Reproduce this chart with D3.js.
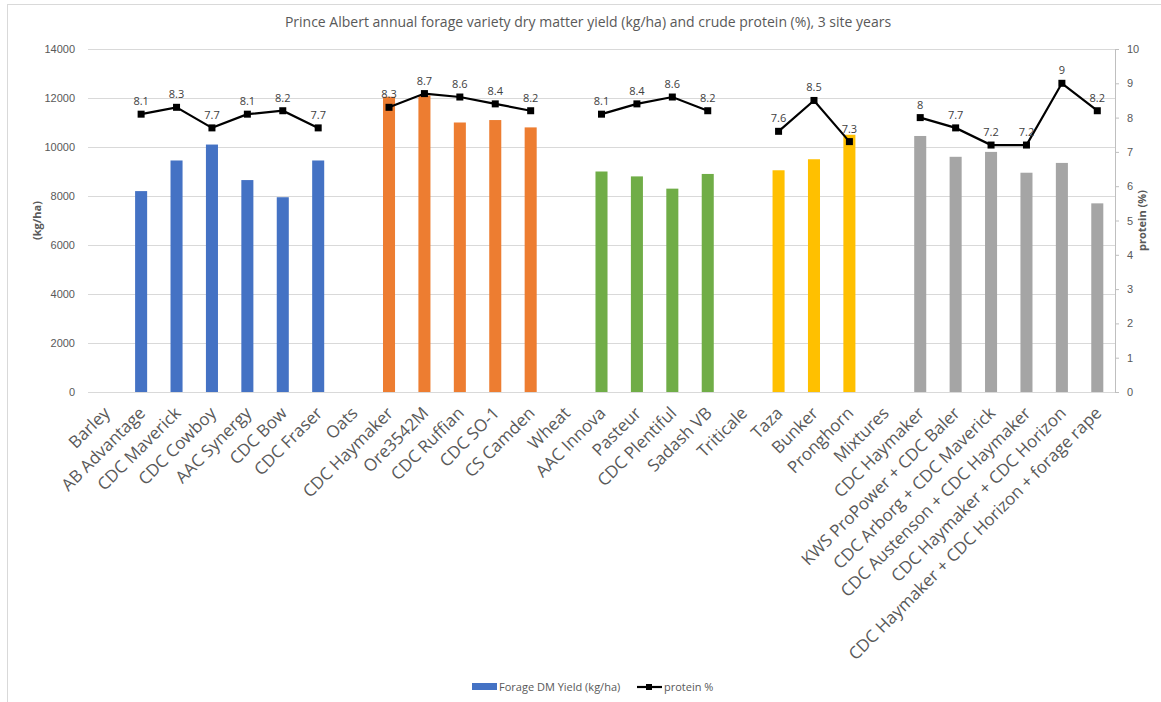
<!DOCTYPE html>
<html>
<head>
<meta charset="utf-8">
<script src="https://cdn.jsdelivr.net/npm/d3@7/dist/d3.min.js"></script>
<style>
  body { margin: 0; background: #fff; }
  svg { font-family: "Open Sans", "Liberation Sans", sans-serif; }
</style>
</head>
<body>
<div id="chart"></div>
<script>
// categories (group headers have no values)
var categories = ["Barley", "AB Advantage", "CDC Maverick", "CDC Cowboy", "AAC Synergy", "CDC Bow", "CDC Fraser",
  "Oats", "CDC Haymaker", "Ore3542M", "CDC Ruffian", "CDC SO-1", "CS Camden",
  "Wheat", "AAC Innova", "Pasteur", "CDC Plentiful", "Sadash VB",
  "Triticale", "Taza", "Bunker", "Pronghorn",
  "Mixtures", "CDC Haymaker ", "KWS ProPower + CDC Baler", "CDC Arborg + CDC Maverick",
  "CDC Austenson + CDC Haymaker", "CDC Haymaker + CDC Horizon", "CDC Haymaker + CDC Horizon + forage rape"];

// forage DM yield (kg/ha)
var yieldVals = [null, 8200, 9450, 10100, 8650, 7950, 9450,
  null, 12050, 12100, 11000, 11100, 10800,
  null, 9000, 8800, 8300, 8900,
  null, 9050, 9500, 10500,
  null, 10450, 9600, 9800, 8950, 9350, 7700];

// crude protein (%)
var proteinVals = [null, 8.1, 8.3, 7.7, 8.1, 8.2, 7.7,
  null, 8.3, 8.7, 8.6, 8.4, 8.2,
  null, 8.1, 8.4, 8.6, 8.2,
  null, 7.6, 8.5, 7.3,
  null, 8, 7.7, 7.2, 7.2, 9, 8.2];

// crop group of each category, used for bar colour
var groups = ["Barley","Barley","Barley","Barley","Barley","Barley","Barley",
  "Oats","Oats","Oats","Oats","Oats","Oats",
  "Wheat","Wheat","Wheat","Wheat","Wheat",
  "Triticale","Triticale","Triticale","Triticale",
  "Mixtures","Mixtures","Mixtures","Mixtures","Mixtures","Mixtures","Mixtures"];
var groupColors = {Barley: "#4472C4", Oats: "#ED7D31", Wheat: "#70AD47", Triticale: "#FFC000", Mixtures: "#A5A5A5"};

var yTicks = [0, 2000, 4000, 6000, 8000, 10000, 12000, 14000];
var y2Ticks = [0, 1, 2, 3, 4, 5, 6, 7, 8, 9, 10];

var data = categories.map(function(c, i) {
  return {name: c, yield: yieldVals[i], protein: proteinVals[i], group: groups[i]};
});

var W = 1161, H = 702;
var margin = {top: 49, left: 88, right: 46, bottom: 310};
var width = W - margin.left - margin.right,
    height = H - margin.top - margin.bottom;

var svg = d3.select("#chart").append("svg")
  .attr("width", W).attr("height", H);

// chart border
svg.append("rect")
  .attr("x", 7.5).attr("y", 4.5)
  .attr("width", W).attr("height", H)
  .attr("fill", "none").attr("stroke", "#d9d9d9");

// title
svg.append("text")
  .attr("x", 588).attr("y", 27)
  .attr("text-anchor", "middle")
  .style("font-size", "14px").style("fill", "#595959")
  .text("Prince Albert annual forage variety dry matter yield (kg/ha) and crude protein (%), 3 site years");

var g = svg.append("g")
  .attr("transform", "translate(" + margin.left + "," + margin.top + ")");

var x = d3.scaleBand()
  .domain(d3.range(categories.length))
  .range([0, width])
  .paddingInner(0.66).paddingOuter(0.33);

var y = d3.scaleLinear().domain([0, 14000]).range([height, 0]);
var y2 = d3.scaleLinear().domain([0, 10]).range([height, 0]);

// gridlines
g.append("g")
  .selectAll("line").data(yTicks).enter().append("line")
  .attr("x1", 0).attr("x2", width)
  .attr("y1", function(d) { return y(d) + 0.5; })
  .attr("y2", function(d) { return y(d) + 0.5; })
  .attr("stroke", "#d9d9d9").attr("stroke-width", 1);

// left axis
var yAxis = g.append("g")
  .call(d3.axisLeft(y).tickValues(yTicks).tickSize(0).tickPadding(13).tickFormat(d3.format("d")));
yAxis.select(".domain").remove();
yAxis.selectAll("text").style("font-size", "11px").style("fill", "#595959");

// right axis
var y2Axis = g.append("g")
  .attr("transform", "translate(" + width + ",0)")
  .call(d3.axisRight(y2).tickValues(y2Ticks).tickSize(4).tickSizeOuter(0).tickPadding(8));
y2Axis.select(".domain").attr("stroke", "#bfbfbf");
y2Axis.selectAll(".tick line").attr("stroke", "#bfbfbf");
y2Axis.selectAll("text").style("font-size", "11px").style("fill", "#595959");

// axis titles
svg.append("text")
  .attr("transform", "translate(41," + (margin.top + height / 2) + ") rotate(-90)")
  .attr("text-anchor", "middle")
  .style("font-size", "11px").style("font-weight", "bold").style("fill", "#595959")
  .text("(kg/ha)");
svg.append("text")
  .attr("transform", "translate(1146," + (margin.top + height / 2) + ") rotate(-90)")
  .attr("text-anchor", "middle")
  .style("font-size", "11px").style("font-weight", "bold").style("fill", "#595959")
  .text("protein (%)");

// bars
g.selectAll("rect.bar")
  .data(data.filter(function(d) { return d.yield != null; }))
  .enter().append("rect")
  .attr("class", "bar")
  .attr("x", function(d) { return x(categories.indexOf(d.name)); })
  .attr("y", function(d) { return y(d.yield); })
  .attr("width", x.bandwidth())
  .attr("height", function(d) { return height - y(d.yield); })
  .attr("fill", function(d) { return groupColors[d.group]; });

// x axis line
g.append("line")
  .attr("x1", 0).attr("x2", width)
  .attr("y1", height + 0.5).attr("y2", height + 0.5)
  .attr("stroke", "#d9d9d9");

// x labels
var cx = function(i) { return x(i) + x.bandwidth() / 2; };
g.selectAll("text.xlab")
  .data(categories)
  .enter().append("text")
  .attr("class", "xlab")
  .attr("transform", function(d, i) { return "translate(" + (cx(i) + 1) + "," + (height + 18) + ") rotate(-45)"; })
  .attr("text-anchor", "end")
  .attr("dy", "0.35em")
  .style("font-size", "17px").style("fill", "#595959")
  .text(function(d) { return d.trim(); });

// protein line
var line = d3.line()
  .defined(function(d) { return d.protein != null; })
  .x(function(d, i) { return cx(i); })
  .y(function(d) { return y2(d.protein); });

g.append("path")
  .datum(data)
  .attr("d", line)
  .attr("fill", "none")
  .attr("stroke", "#000")
  .attr("stroke-width", 2.2);

var pts = data.map(function(d, i) { return {d: d, i: i}; })
  .filter(function(p) { return p.d.protein != null; });

g.selectAll("rect.marker")
  .data(pts).enter().append("rect")
  .attr("class", "marker")
  .attr("x", function(p) { return cx(p.i) - 3.5; })
  .attr("y", function(p) { return y2(p.d.protein) - 3.5; })
  .attr("width", 7).attr("height", 7)
  .attr("fill", "#000");

g.selectAll("text.dlab")
  .data(pts).enter().append("text")
  .attr("class", "dlab")
  .attr("x", function(p) { return cx(p.i); })
  .attr("y", function(p) { return y2(p.d.protein) - 9; })
  .attr("text-anchor", "middle")
  .style("font-size", "11px").style("fill", "#404040")
  .text(function(p) { return p.d.protein; });

// legend
var leg = svg.append("g").attr("transform", "translate(0,687)");
leg.append("rect").attr("x", 472).attr("y", -4).attr("width", 25).attr("height", 7).attr("fill", groupColors.Barley);
leg.append("text").attr("x", 499).attr("y", 4)
  .style("font-size", "11px").style("fill", "#595959")
  .text("Forage DM Yield (kg/ha)");
leg.append("line").attr("x1", 637).attr("x2", 662).attr("y1", 0).attr("y2", 0)
  .attr("stroke", "#000").attr("stroke-width", 2.2);
leg.append("rect").attr("x", 646).attr("y", -3).attr("width", 6).attr("height", 6).attr("fill", "#000");
leg.append("text").attr("x", 664).attr("y", 4)
  .style("font-size", "11px").style("fill", "#595959")
  .text("protein %");
</script>
</body>
</html>
